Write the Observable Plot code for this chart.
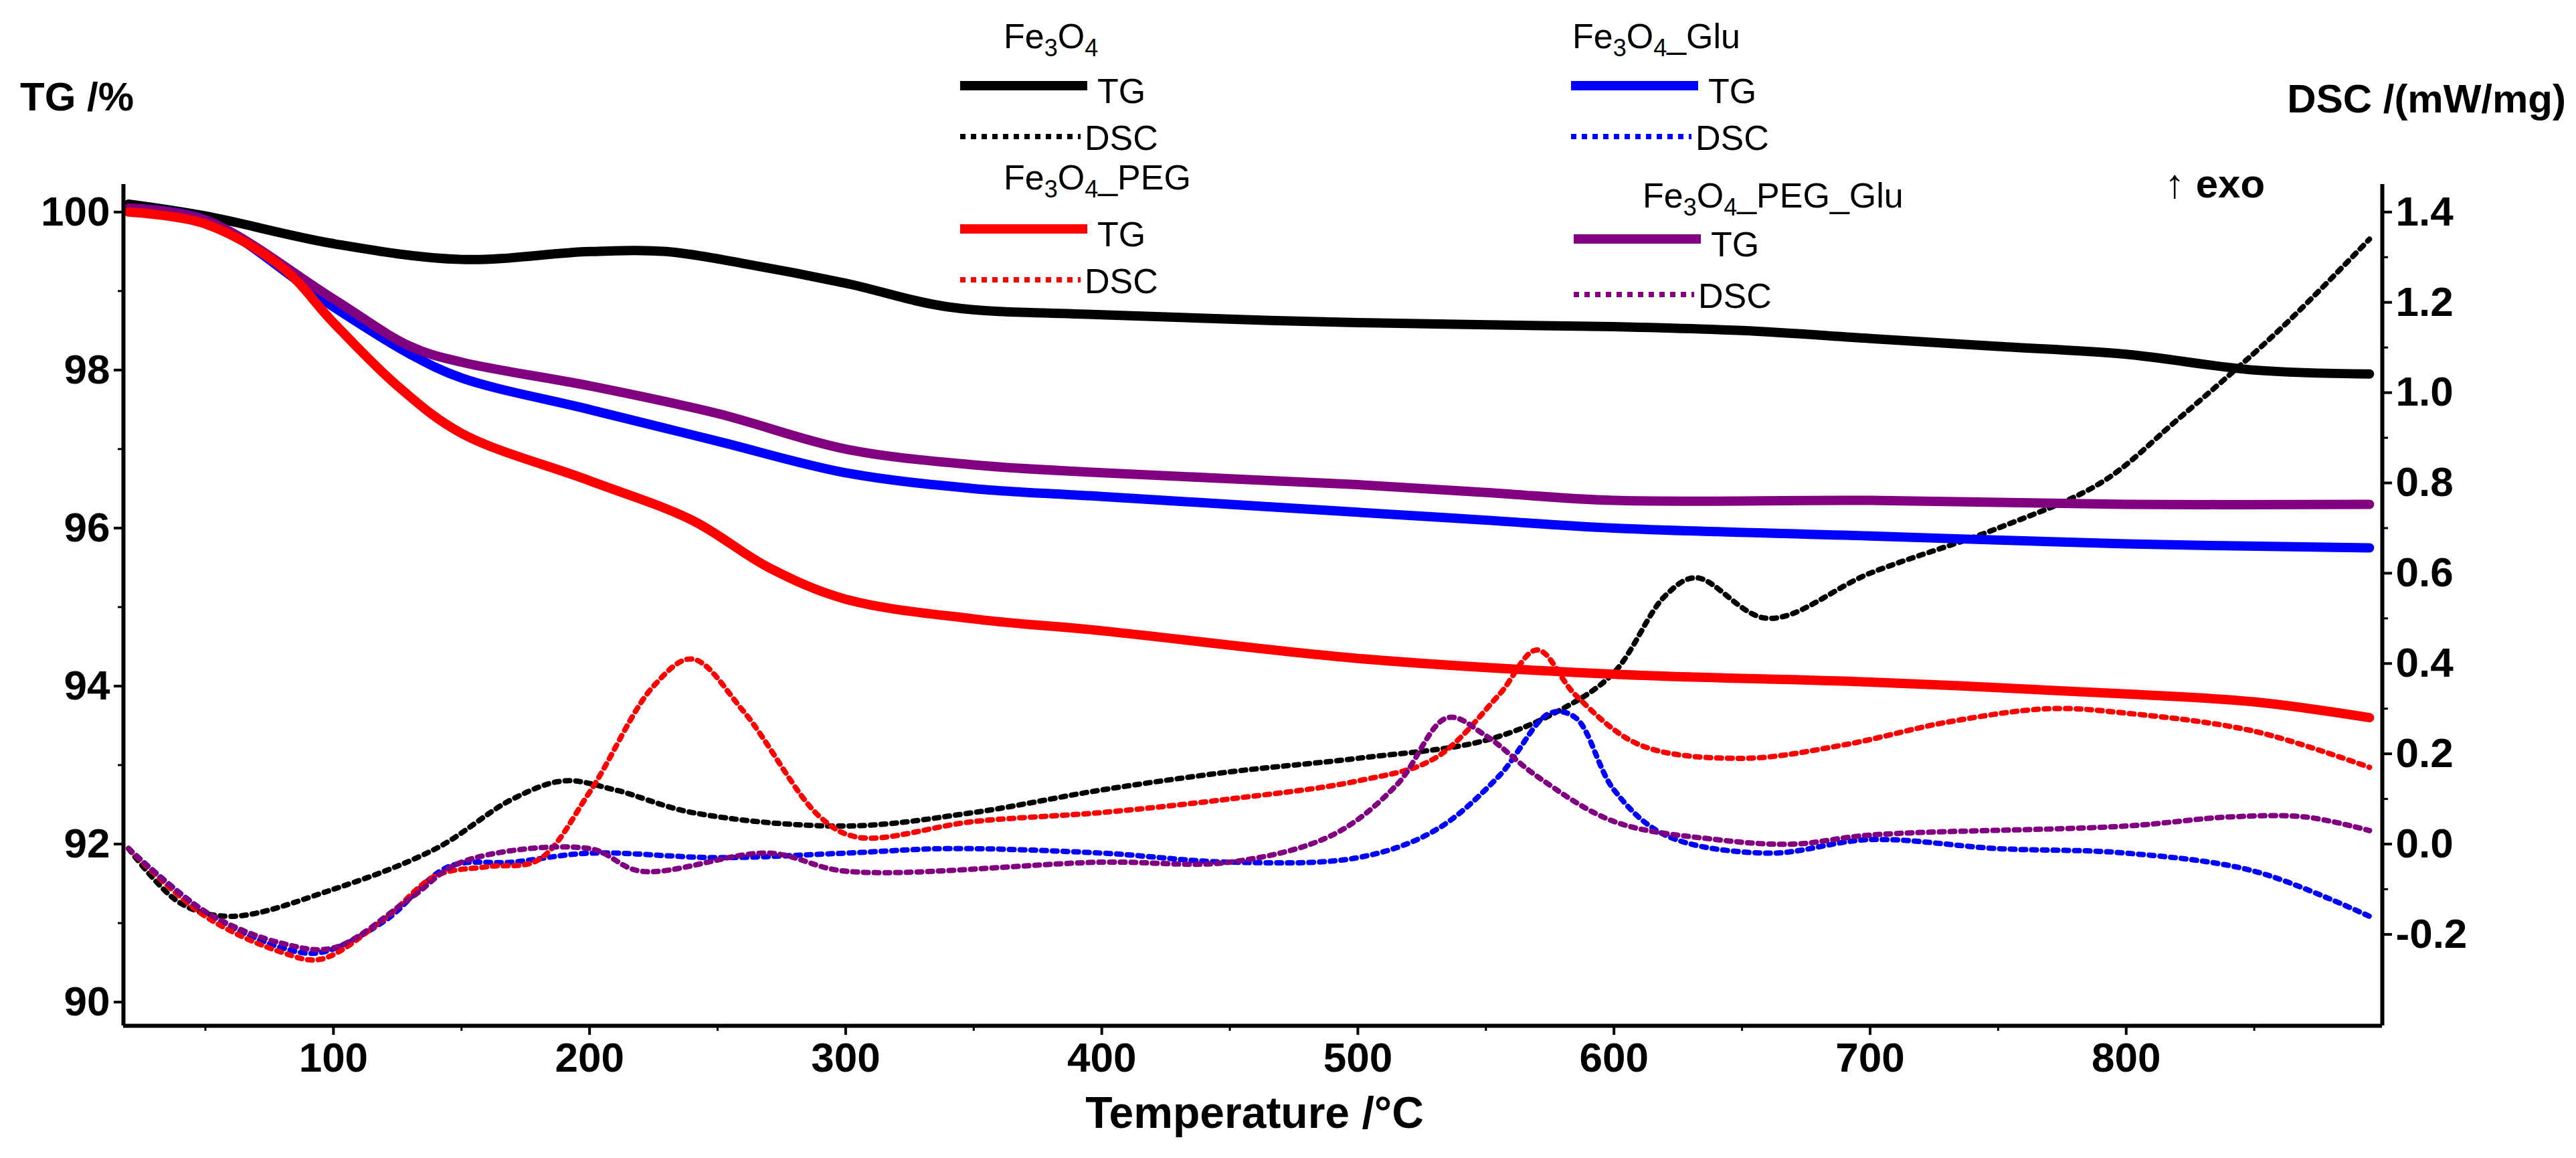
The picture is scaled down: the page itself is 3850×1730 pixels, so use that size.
<!DOCTYPE html>
<html><head><meta charset="utf-8">
<script src="https://cdn.jsdelivr.net/npm/d3@7"></script>
<script src="https://cdn.jsdelivr.net/npm/@observablehq/plot@0.6"></script>
<style>body{margin:0;background:#fff;font-family:"Liberation Sans",Arial,sans-serif}</style>
</head><body><div id="chart"></div>
<script>
// ---- data ----
const tgBlackT = [20,50,100,150,200,230,260,300,340,400,500,600,650,700,750,800,850,895];
const tgBlack  = [100.1,99.95,99.6,99.4,99.5,99.5,99.35,99.1,98.8,98.7,98.6,98.55,98.5,98.4,98.3,98.2,98.0,97.95];
const tgBlueT = [20,50,100,130,150,200,250,300,350,400,500,550,600,700,800,895];
const tgBlue  = [100.05,99.9,98.8,98.2,97.9,97.5,97.1,96.7,96.5,96.4,96.2,96.1,96.0,95.9,95.8,95.75];
const tgPurpleT = [20,50,100,130,150,200,250,300,350,400,500,550,600,700,800,895];
const tgPurple  = [100.05,99.9,98.9,98.3,98.1,97.8,97.45,97.0,96.8,96.7,96.55,96.45,96.35,96.35,96.3,96.3];
const tgRedT = [20,50,80,100,125,150,200,240,270,300,350,400,500,600,700,800,850,895];
const tgRed  = [100.0,99.85,99.3,98.6,97.8,97.2,96.6,96.1,95.5,95.1,94.85,94.7,94.35,94.15,94.05,93.9,93.8,93.6];

const dscBlackT = [20,40,60,100,140,170,190,210,240,300,350,400,450,500,550,580,600,620,632,660,700,750,790,820,860,895];
const dscBlack  = [-0.01,-0.13,-0.16,-0.10,-0.01,0.10,0.14,0.12,0.07,0.04,0.07,0.12,0.16,0.19,0.23,0.30,0.38,0.55,0.59,0.50,0.60,0.70,0.80,0.94,1.14,1.34];
const dscRedT = [20,50,80,95,120,140,160,180,200,225,240,260,290,305,350,400,450,500,530,555,570,585,610,650,690,730,770,800,850,895];
const dscRed  = [-0.01,-0.16,-0.24,-0.255,-0.165,-0.07,-0.05,-0.035,0.115,0.35,0.41,0.295,0.06,0.015,0.05,0.07,0.10,0.14,0.19,0.33,0.43,0.33,0.22,0.19,0.22,0.27,0.30,0.29,0.25,0.17];
const dscBlueT = [20,50,80,95,120,145,170,200,250,300,340,400,450,500,530,555,575,585,600,620,660,700,750,800,850,895];
const dscBlue  = [-0.01,-0.15,-0.23,-0.24,-0.17,-0.05,-0.04,-0.02,-0.03,-0.02,-0.01,-0.02,-0.04,-0.03,0.03,0.15,0.29,0.28,0.12,0.02,-0.02,0.01,-0.01,-0.02,-0.06,-0.16];
const dscPurpleT = [20,50,80,100,130,150,200,220,270,300,400,450,490,515,535,550,570,600,640,670,700,800,840,870,895];
const dscPurple  = [-0.01,-0.15,-0.22,-0.23,-0.12,-0.04,-0.01,-0.06,-0.02,-0.06,-0.04,-0.04,0.02,0.13,0.28,0.24,0.15,0.05,0.01,0.0,0.02,0.04,0.06,0.06,0.03];

const leftTicks = [90,92,94,96,98,100];
const rightTicks = [-0.2,0.0,0.2,0.4,0.6,0.8,1.0,1.2,1.4];
const xTicks = [100,200,300,400,500,600,700,800];

const toTG = d => 92 + d * (8/1.4);
const pts = (T, V, f = v => v) => T.map((t, i) => ({t, v: f(V[i])}));

const series = [
  {name:"Fe3O4", color:"#000000", tgT:tgBlackT, tg:tgBlack, dT:dscBlackT, d:dscBlack},
  {name:"Fe3O4_Glu", color:"#0000ff", tgT:tgBlueT, tg:tgBlue, dT:dscBlueT, d:dscBlue},
  {name:"Fe3O4_PEG", color:"#ff0000", tgT:tgRedT, tg:tgRed, dT:dscRedT, d:dscRed},
  {name:"Fe3O4_PEG_Glu", color:"#800080", tgT:tgPurpleT, tg:tgPurple, dT:dscPurpleT, d:dscPurple},
];

const marks = [];
for (const s of series) {
  marks.push(Plot.line(pts(s.dT, s.d, toTG), {x:"t", y:"v", stroke:s.color, strokeWidth:8, strokeDasharray:"7 9", curve:"catmull-rom"}));
}
for (const s of [series[0], series[1], series[3], series[2]]) {
  marks.push(Plot.line(pts(s.tgT, s.tg), {x:"t", y:"v", stroke:s.color, strokeWidth:14, curve:"catmull-rom"}));
}

const font = {fontSize:62, fontWeight:"bold"};
const plot = Plot.plot({
  width:3850, height:1730,
  marginLeft:184, marginRight:290, marginTop:275, marginBottom:198,
  style:{fontFamily:"Liberation Sans, Arial, sans-serif", background:"#fff", color:"#000"},
  x:{domain:[18,900]},
  y:{domain:[89.7,100.35]},
  marks:[
    ...marks,
    Plot.ruleX([18,900], {stroke:"#000", strokeWidth:6}),
    Plot.ruleY([89.7], {stroke:"#000", strokeWidth:6}),
    Plot.axisX(xTicks, {tickSize:14, strokeWidth:4, tickPadding:10, ...font, label:null, tickFormat:d=>d}),
    Plot.axisX(d3.range(50,900,50), {tickSize:8, strokeWidth:3, text:null, label:null}),
    Plot.axisY(leftTicks, {anchor:"left", tickSize:14, strokeWidth:4, tickPadding:6, ...font, label:null, tickFormat:d=>d}),
    Plot.axisY(d3.range(91,100,2), {anchor:"left", tickSize:8, strokeWidth:3, text:null, label:null}),
    Plot.axisY(rightTicks.map(toTG), {anchor:"right", tickSize:14, strokeWidth:4, tickPadding:6, ...font, label:null,
      tickFormat: v => { const d = Math.round((v-92)/(8/1.4)*10)/10; return (d===0?"0.0":d.toFixed(1)); }}),
    Plot.axisY(d3.range(-0.1,1.4,0.2).map(toTG), {anchor:"right", tickSize:8, strokeWidth:3, text:null, label:null})
  ]
});
document.getElementById("chart").appendChild(plot);

// titles & legend overlay
const svg = d3.select(plot);
const g = svg.append("g").attr("font-family","Liberation Sans, Arial, sans-serif").attr("fill","#000").attr("text-anchor","start");
g.append("text").attr("x",30).attr("y",165).attr("font-size",60).attr("font-weight","bold").text("TG /%");
g.append("text").attr("x",3835).attr("y",168).attr("text-anchor","end").attr("font-size",60).attr("font-weight","bold").text("DSC /(mW/mg)");
g.append("text").attr("x",3235).attr("y",295).attr("font-size",60).attr("font-weight","bold").text("↑ exo");
g.append("text").attr("x",1875).attr("y",1685).attr("text-anchor","middle").attr("font-size",66).attr("font-weight","bold").text("Temperature /°C");

const legendPos = [
  {s:series[0], x:1435, yl:72, ytg:128, yd:204, lx:1500},
  {s:series[1], x:2348, yl:72, ytg:128, yd:204, lx:2350},
  {s:series[2], x:1435, yl:283, ytg:342, yd:418, lx:1500},
  {s:series[3], x:2352, yl:310, ytg:357, yd:440, lx:2455},
];
for (const L of legendPos) {
  const parts = L.s.name.split("Fe3O4");
  const t = g.append("text").attr("x",L.lx).attr("y",L.yl).attr("font-size",52);
  t.append("tspan").text("Fe");
  t.append("tspan").attr("font-size",36).attr("dy",12).text("3");
  t.append("tspan").attr("dy",-12).text("O");
  t.append("tspan").attr("font-size",36).attr("dy",12).text("4");
  t.append("tspan").attr("dy",-12).text(parts[1] || "");
  g.append("line").attr("x1",L.x).attr("x2",L.x+190).attr("y1",L.ytg).attr("y2",L.ytg).attr("stroke",L.s.color).attr("stroke-width",14);
  g.append("text").attr("x",L.x+205).attr("y",L.ytg+26).attr("font-size",52).text("TG");
  g.append("line").attr("x1",L.x).attr("x2",L.x+180).attr("y1",L.yd).attr("y2",L.yd).attr("stroke",L.s.color).attr("stroke-width",8).attr("stroke-dasharray","8 8");
  g.append("text").attr("x",L.x+186).attr("y",L.yd+20).attr("font-size",52).text("DSC");
}
</script></body></html>
